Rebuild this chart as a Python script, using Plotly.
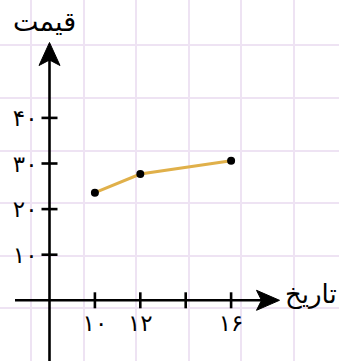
import plotly.graph_objects as go

# ---- data ----
dates = [10, 12, 16]
prices = [23.6, 27.7, 30.6]

x_tick_marks = [10, 12, 14, 16]
x_tick_vals = [10, 12, 16]
x_tick_text = ["۱۰", "۱۲", "۱۶"]
y_tick_vals = [10, 20, 30, 40]
y_tick_text = ["۱۰", "۲۰", "۳۰", "۴۰"]

x_title = "تاریخ"
y_title = "قیمت"

# ---- layout geometry (pixels) ----
W, H = 339, 361
OX, OY = 49.5, 300.3           # pixel position of the axes crossing
X_ORIGIN_VAL = 8               # x value at the crossing
PX_PER_X = 22.7
PX_PER_Y = 4.56
GRID_STEP = 52.6
GRID_X0, GRID_Y0 = 31.0, 45.3

x_lo = X_ORIGIN_VAL - OX / PX_PER_X
x_hi = x_lo + W / PX_PER_X
y_lo = -(H - OY) / PX_PER_Y
y_hi = y_lo + H / PX_PER_Y

FONT = "DejaVu Sans"
AX = dict(color="black", width=2.6)

fig = go.Figure()
fig.add_trace(go.Scatter(
    x=dates, y=prices, mode="lines+markers",
    line=dict(color="#E0B04A", width=3),
    marker=dict(color="black", size=8),
    xaxis="x", yaxis="y", cliponaxis=False, showlegend=False,
))
# invisible trace on the graph-paper axes so they render
fig.add_trace(go.Scatter(x=[0], y=[0], mode="markers", marker=dict(opacity=0),
                         xaxis="x2", yaxis="y2", showlegend=False, hoverinfo="skip"))

shapes = []
# axis lines (pixel overlay coordinates)
shapes.append(dict(type="line", xref="x2", yref="y2", x0=15, x1=265, y0=OY, y1=OY, line=AX))
shapes.append(dict(type="line", xref="x2", yref="y2", x0=OX, x1=OX, y0=H + 5, y1=58, line=AX))
# arrow heads
shapes.append(dict(type="path", xref="x2", yref="y2",
                   path=f"M {OX+230},{OY} L {OX+207},{OY-10} L {OX+212},{OY} L {OX+207},{OY+10} Z",
                   fillcolor="black", line=dict(color="black", width=1)))
shapes.append(dict(type="path", xref="x2", yref="y2",
                   path=f"M {OX},{42.5} L {OX-10.5},{65.5} L {OX},{60} L {OX+10.5},{65.5} Z",
                   fillcolor="black", line=dict(color="black", width=1)))
# tick marks
for v in x_tick_marks:
    shapes.append(dict(type="line", xref="x", yref="y", ysizemode="pixel", yanchor=0,
                       x0=v, x1=v, y0=-8, y1=8, line=AX))
for v in y_tick_vals:
    shapes.append(dict(type="line", xref="x", yref="y", xsizemode="pixel", xanchor=X_ORIGIN_VAL,
                       x0=-8, x1=8, y0=v, y1=v, line=AX))

annotations = [
    dict(x=44, y=21, xref="x2", yref="y2", text=y_title, showarrow=False,
         font=dict(family=FONT, size=27, color="black")),
    dict(x=311, y=294, xref="x2", yref="y2", text=x_title, showarrow=False,
         font=dict(family=FONT, size=26, color="black")),
]

fig.update_layout(
    template="none",
    width=W, height=H,
    margin=dict(l=0, r=0, t=0, b=0, pad=0),
    paper_bgcolor="white", plot_bgcolor="white",
    showlegend=False,
    xaxis=dict(range=[x_lo, x_hi], anchor="free", position=(H - OY) / H,
               showgrid=False, zeroline=False, showline=False, ticks="",
               tickmode="array", tickvals=x_tick_vals, ticktext=x_tick_text,
               tickfont=dict(family=FONT, size=23, color="black"),
               ticklabelstandoff=7, automargin=False, fixedrange=True),
    yaxis=dict(range=[y_lo, y_hi], anchor="free", position=OX / W,
               showgrid=False, zeroline=False, showline=False, ticks="",
               tickmode="array", tickvals=y_tick_vals, ticktext=y_tick_text,
               tickfont=dict(family=FONT, size=23, color="black"),
               ticklabelstandoff=12, automargin=False, fixedrange=True),
    xaxis2=dict(range=[0, W], overlaying="x", anchor="y2", showgrid=True,
                gridcolor="#EEE3F3", gridwidth=1.5, tick0=GRID_X0, dtick=GRID_STEP,
                showticklabels=False, ticks="", zeroline=False, showline=False,
                automargin=False, fixedrange=True),
    yaxis2=dict(range=[H, 0], overlaying="y", anchor="x2", showgrid=True,
                gridcolor="#EEE3F3", gridwidth=1.5, tick0=GRID_Y0, dtick=GRID_STEP,
                showticklabels=False, ticks="", zeroline=False, showline=False,
                automargin=False, fixedrange=True),
    shapes=shapes,
    annotations=annotations,
)

fig.write_html("out.html", config={"displayModeBar": False},
               post_script="document.body.style.margin='0px';document.body.style.overflow='hidden';")
